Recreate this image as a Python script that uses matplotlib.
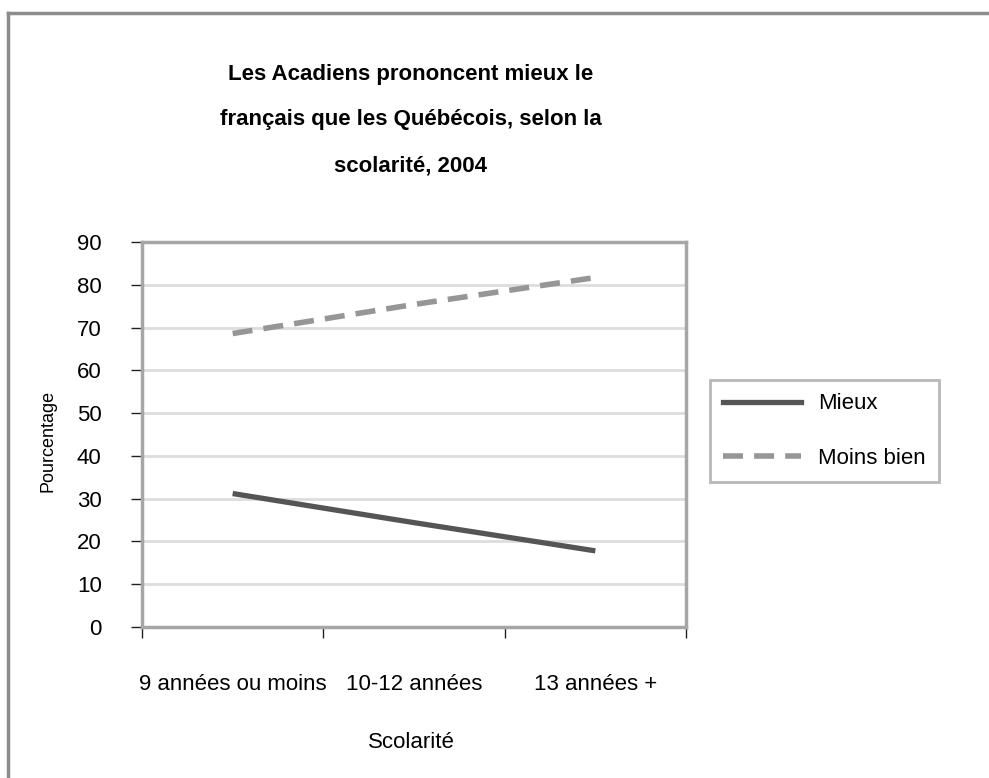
import matplotlib
matplotlib.use("Agg")
import matplotlib.pyplot as plt
from matplotlib.lines import Line2D

# Données
categories = ["9 années ou moins", "10-12 années", "13 années +"]
mieux = [31.2, 24.4, 17.8]
moins_bien = [68.6, 75.4, 81.7]
yticks = [0, 10, 20, 30, 40, 50, 60, 70, 80, 90]

plt.rcParams['font.family'] = ['Liberation Sans', 'DejaVu Sans']

W, H = 989, 778
fig = plt.figure(figsize=(W / 100, H / 100), dpi=100)

# axes: x 142..686, y 242..627 (pixels)
ax = fig.add_axes([142 / W, 1 - 627 / H, (686 - 142) / W, (627 - 242) / H])

x = list(range(len(categories)))
ax.plot(x, mieux, color="#555555", lw=3.8, solid_capstyle="butt", label="Mieux")
ax.plot(x, moins_bien, color="#969696", lw=4.0, dashes=(3.6, 2.0),
        dash_capstyle="butt", label="Moins bien")

ax.set_xlim(-0.5, 2.5)
ax.set_ylim(0, 90)
ax.set_yticks(yticks)
ax.set_yticklabels([str(v) for v in yticks], fontsize=16)

# ticks entre catégories, étiquettes au centre
ax.set_xticks([-0.5, 0.5, 1.5, 2.5])
ax.set_xticklabels([])
ax.set_xticks(x, minor=True)
ax.set_xticklabels(categories, minor=True, fontsize=16)
ax.tick_params(axis="x", which="minor", length=0, pad=34)
ax.tick_params(axis="x", which="major", length=8, width=1, color="#222222", direction="out")
ax.tick_params(axis="y", length=8, width=1, color="#222222", pad=21)

ax.yaxis.grid(True, color="#dddddd", lw=2)
ax.set_axisbelow(True)
for s in ax.spines.values():
    s.set_color("#a6a6a6")
    s.set_linewidth(2.5)

fig.text(48 / W, 1 - 441 / H, "Pourcentage", rotation=90, ha="center", va="center", fontsize=13)
fig.text(411 / W, 1 - 742 / H, "Scolarité", ha="center", va="center", fontsize=16)

fig.text(411 / W, 1 - 120 / H,
         "Les Acadiens prononcent mieux le\nfrançais que les Québécois, selon la\nscolarité, 2004",
         ha="center", va="center", fontsize=16, fontweight="bold", linespacing=2.55)

handles = [Line2D([], [], color="#555555", lw=3.8),
           Line2D([], [], color="#969696", lw=4.0, dashes=(3.6, 2.0))]
leg = fig.legend(handles, ["Mieux", "Moins bien"], loc="upper left",
                 bbox_to_anchor=(710 / W, 1 - 380 / H), fontsize=16, frameon=True,
                 fancybox=False, handlelength=3.5, handletextpad=0.75,
                 labelspacing=1.5, borderpad=0.6, borderaxespad=0)
leg.get_frame().set_edgecolor("#a6a6a6")
leg.get_frame().set_linewidth(2)

# cadre extérieur (haut et gauche)
fig.add_artist(Line2D([8 / W, 8 / W], [0, 1 - 13 / H], color="#8c8c8c", lw=2.5))
fig.add_artist(Line2D([8 / W, 1], [1 - 13 / H, 1 - 13 / H], color="#8c8c8c", lw=2.5))

fig.savefig("out.png", dpi=100)
